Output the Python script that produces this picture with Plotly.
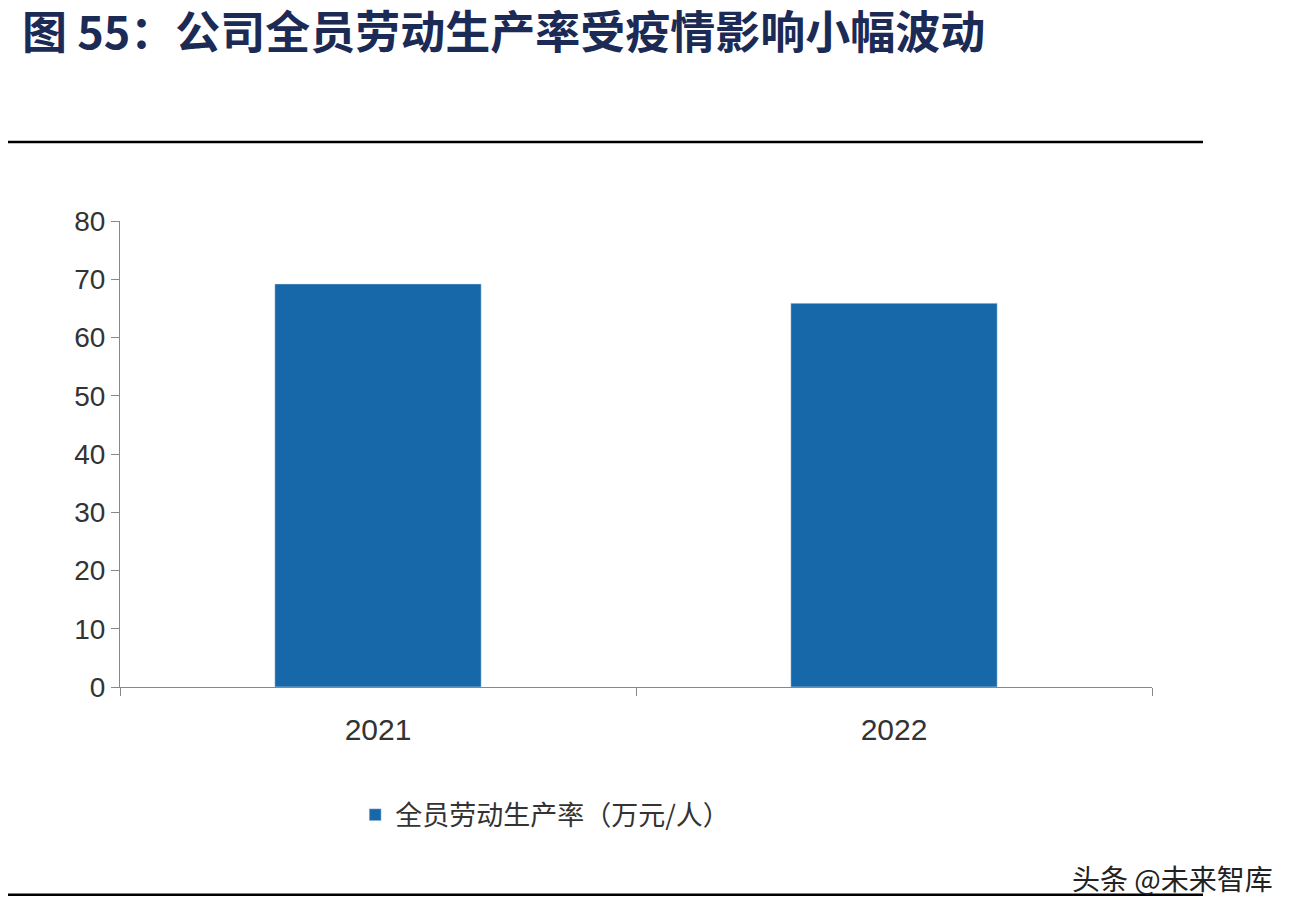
import plotly.graph_objects as go

# chart data
years = ["2021", "2022"]
productivity = [69.2, 65.9]
series_name = "全员劳动生产率（万元/人）"
title_text = "图 55：公司全员劳动生产率受疫情影响小幅波动"

fig = go.Figure()
fig.add_trace(go.Bar(x=years, y=productivity, name=series_name,
                     marker_color="#1768a8", width=0.4, showlegend=True))

fig.update_layout(
    width=1302, height=918,
    margin=dict(l=112, r=158, t=213, b=239),
    paper_bgcolor="white", plot_bgcolor="white",
    font=dict(family="Noto Sans CJK SC, Arial", color="#333333"),
    legend=dict(orientation="h", x=0.412, xanchor="center", y=-0.275,
                yanchor="middle", font=dict(size=27, color="#333333")),
    xaxis=dict(showline=True, linecolor="#888888", ticks="outside",
               tickson="boundaries", ticklen=8, tickcolor="#888888",
               tickfont=dict(size=30, family="Arial"), ticklabelstandoff=16),
    yaxis=dict(range=[0, 80], dtick=10, showgrid=False, showline=True,
               linecolor="#888888", ticks="outside", ticklen=8,
               tickcolor="#888888", tickfont=dict(size=28, family="Arial"),
               zeroline=False),
)

# title and rules
fig.add_annotation(text="<b>" + title_text + "</b>", xref="paper", yref="paper",
                   x=-0.097, y=1.41, xanchor="left", yanchor="middle",
                   showarrow=False, font=dict(size=45, color="#1c2a56"))
fig.add_shape(type="line", xref="paper", yref="paper", x0=-0.12, x1=1.0494,
              y0=1.1695, y1=1.1695, line=dict(color="black", width=2.5))
fig.add_shape(type="line", xref="paper", yref="paper", x0=-0.12, x1=1.0494,
              y0=-0.446, y1=-0.446, line=dict(color="black", width=2.5))
fig.add_annotation(text="头条 @未来智库", xref="paper", yref="paper",
                   x=1.119, y=-0.41, xanchor="right", yanchor="middle",
                   showarrow=False, font=dict(size=28, color="#222222"))

fig.write_html("out.html")
